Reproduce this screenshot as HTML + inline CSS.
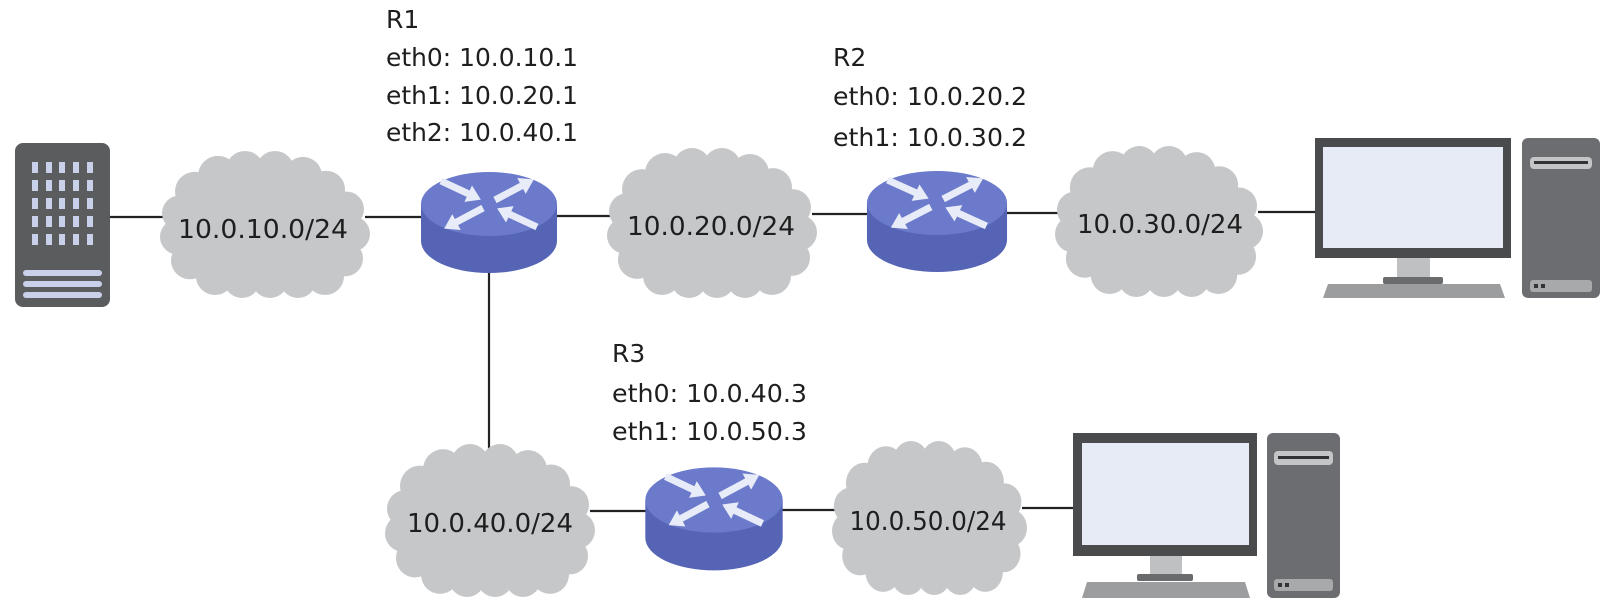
<!DOCTYPE html>
<html><head><meta charset="utf-8"><style>
html,body{margin:0;padding:0;background:#fff;}
svg{display:block;}
.t{font-family:"DejaVu Sans","Liberation Sans",sans-serif;font-size:25px;fill:#1e1e1e;}
.c{font-family:"DejaVu Sans","Liberation Sans",sans-serif;font-size:26px;fill:#1e1e1e;text-anchor:middle;}
</style></head><body>
<svg width="1613" height="610" viewBox="0 0 1613 610" xmlns="http://www.w3.org/2000/svg">
<defs>
<symbol id="cloud" viewBox="0 0 210 150" preserveAspectRatio="none" overflow="visible">
<g fill="#c5c7c9">
<ellipse cx="105" cy="76" rx="95" ry="62"/>
<circle cx="35" cy="42" r="20"/><circle cx="58" cy="26" r="20"/><circle cx="85" cy="20" r="19"/>
<circle cx="115" cy="20" r="19"/><circle cx="143" cy="26" r="19"/><circle cx="166" cy="40" r="19"/>
<circle cx="186" cy="60" r="18"/><circle cx="192" cy="85" r="18"/><circle cx="185" cy="110" r="18"/>
<circle cx="165" cy="128" r="19"/><circle cx="138" cy="132" r="18"/><circle cx="110" cy="132" r="18"/>
<circle cx="82" cy="132" r="18"/><circle cx="55" cy="128" r="19"/><circle cx="30" cy="112" r="19"/>
<circle cx="18" cy="88" r="18"/><circle cx="20" cy="64" r="18"/>
</g>
</symbol>
<polygon id="arr" points="0,-3.5 30,-3.5 30,-9 44,0 30,9 30,3.5 0,3.5" fill="#e8ecf8"/>
<g id="router">
<path d="M-68,0 L-68,37 A68,32 0 0 0 68,37 L68,0 Z" fill="#5564b5"/>
<ellipse cx="0" cy="0" rx="68" ry="32" fill="#6b7acb"/>
<use href="#arr" transform="translate(-48,-23) rotate(25)"/>
<use href="#arr" transform="translate(6,-4) rotate(-28)"/>
<use href="#arr" transform="translate(-6,4) rotate(152)"/>
<use href="#arr" transform="translate(48,23) rotate(-155)"/>
</g>
</defs>

<g stroke="#222" stroke-width="2.2" fill="none">
<line x1="108" y1="217" x2="165" y2="217"/>
<line x1="365" y1="217" x2="425" y2="217"/>
<line x1="555" y1="216" x2="612" y2="216"/>
<line x1="812" y1="214" x2="870" y2="214"/>
<line x1="1004" y1="213" x2="1060" y2="213"/>
<line x1="1258" y1="212" x2="1317" y2="212"/>
<line x1="489" y1="260" x2="489" y2="455"/>
<line x1="590" y1="511" x2="648" y2="511"/>
<line x1="780" y1="510" x2="837" y2="510"/>
<line x1="1022" y1="508" x2="1075" y2="508"/>
</g>

<rect x="15" y="143" width="95" height="164" rx="8" fill="#5b5c5e"/>
<g fill="#c9d1ea">
<rect x="32" y="162" width="6" height="11"/><rect x="46" y="162" width="6" height="11"/><rect x="59" y="162" width="6" height="11"/><rect x="73" y="162" width="6" height="11"/><rect x="87" y="162" width="6" height="11"/>
<rect x="32" y="180" width="6" height="11"/><rect x="46" y="180" width="6" height="11"/><rect x="59" y="180" width="6" height="11"/><rect x="73" y="180" width="6" height="11"/><rect x="87" y="180" width="6" height="11"/>
<rect x="32" y="198" width="6" height="11"/><rect x="46" y="198" width="6" height="11"/><rect x="59" y="198" width="6" height="11"/><rect x="73" y="198" width="6" height="11"/><rect x="87" y="198" width="6" height="11"/>
<rect x="32" y="216" width="6" height="11"/><rect x="46" y="216" width="6" height="11"/><rect x="59" y="216" width="6" height="11"/><rect x="73" y="216" width="6" height="11"/><rect x="87" y="216" width="6" height="11"/>
<rect x="32" y="234" width="6" height="11"/><rect x="46" y="234" width="6" height="11"/><rect x="59" y="234" width="6" height="11"/><rect x="73" y="234" width="6" height="11"/><rect x="87" y="234" width="6" height="11"/>
<rect x="23" y="270" width="79" height="6" rx="3"/><rect x="23" y="281" width="79" height="6" rx="3"/><rect x="23" y="292" width="79" height="6" rx="3"/>
</g>

<use href="#cloud" x="160" y="150" width="210" height="148"/>
<use href="#cloud" x="607" y="147" width="210" height="151"/>
<use href="#cloud" x="1055" y="145" width="208" height="152"/>
<use href="#cloud" x="385" y="443" width="210" height="154"/>
<use href="#cloud" x="832" y="440" width="195" height="155"/>
<text class="c" x="263" y="238" textLength="170" lengthAdjust="spacingAndGlyphs">10.0.10.0/24</text>
<text class="c" x="711" y="235" textLength="168" lengthAdjust="spacingAndGlyphs">10.0.20.0/24</text>
<text class="c" x="1160" y="233" textLength="166" lengthAdjust="spacingAndGlyphs">10.0.30.0/24</text>
<text class="c" x="490" y="532" textLength="166" lengthAdjust="spacingAndGlyphs">10.0.40.0/24</text>
<text class="c" x="928" y="530" textLength="157" lengthAdjust="spacingAndGlyphs">10.0.50.0/24</text>

<use href="#router" transform="translate(489,204)"/>
<use href="#router" transform="translate(937,203) scale(1.03,1)"/>
<use href="#router" transform="translate(714,500) scale(1.01,1.02)"/>

<text class="t" x="386" y="28">R1</text>
<text class="t" x="386" y="66" textLength="192" lengthAdjust="spacingAndGlyphs">eth0: 10.0.10.1</text>
<text class="t" x="386" y="104" textLength="192" lengthAdjust="spacingAndGlyphs">eth1: 10.0.20.1</text>
<text class="t" x="386" y="141" textLength="192" lengthAdjust="spacingAndGlyphs">eth2: 10.0.40.1</text>
<text class="t" x="833" y="66">R2</text>
<text class="t" x="833" y="105" textLength="194" lengthAdjust="spacingAndGlyphs">eth0: 10.0.20.2</text>
<text class="t" x="833" y="146" textLength="194" lengthAdjust="spacingAndGlyphs">eth1: 10.0.30.2</text>
<text class="t" x="612" y="362">R3</text>
<text class="t" x="612" y="402" textLength="195" lengthAdjust="spacingAndGlyphs">eth0: 10.0.40.3</text>
<text class="t" x="612" y="440" textLength="195" lengthAdjust="spacingAndGlyphs">eth1: 10.0.50.3</text>

<rect x="1315" y="138" width="196" height="120" fill="#4a4b4d"/>
<rect x="1323" y="147" width="180" height="101" fill="#e7ebf6"/>
<rect x="1397" y="258" width="33" height="20" fill="#bfc0c2"/>
<rect x="1383" y="277" width="60" height="7" rx="2" fill="#6a6b6d"/>
<polygon points="1328,284 1500,284 1505,298 1323,298" fill="#9c9d9f"/>
<rect x="1522" y="138" width="78" height="160" rx="6" fill="#6c6d70"/>
<rect x="1530" y="157" width="62" height="12" rx="4" fill="#c4c5c7"/>
<rect x="1534" y="161" width="54" height="3" fill="#333"/>
<rect x="1530" y="280" width="62" height="12" rx="3" fill="#a8a9ab"/>
<rect x="1534" y="284" width="4" height="4" fill="#333"/><rect x="1541" y="284" width="4" height="4" fill="#333"/>

<rect x="1073" y="433" width="184" height="123" fill="#4a4b4d"/>
<rect x="1082" y="443" width="167" height="102" fill="#e7ebf6"/>
<rect x="1150" y="556" width="32" height="19" fill="#bfc0c2"/>
<rect x="1137" y="574" width="56" height="7" rx="2" fill="#6a6b6d"/>
<polygon points="1087,582 1245,582 1250,598 1082,598" fill="#9c9d9f"/>
<rect x="1267" y="433" width="73" height="165" rx="6" fill="#6c6d70"/>
<rect x="1274" y="451" width="59" height="14" rx="4" fill="#c4c5c7"/>
<rect x="1278" y="456" width="51" height="3" fill="#333"/>
<rect x="1274" y="579" width="59" height="12" rx="3" fill="#a8a9ab"/>
<rect x="1278" y="583" width="4" height="4" fill="#333"/><rect x="1285" y="583" width="4" height="4" fill="#333"/>
</svg>
</body></html>
